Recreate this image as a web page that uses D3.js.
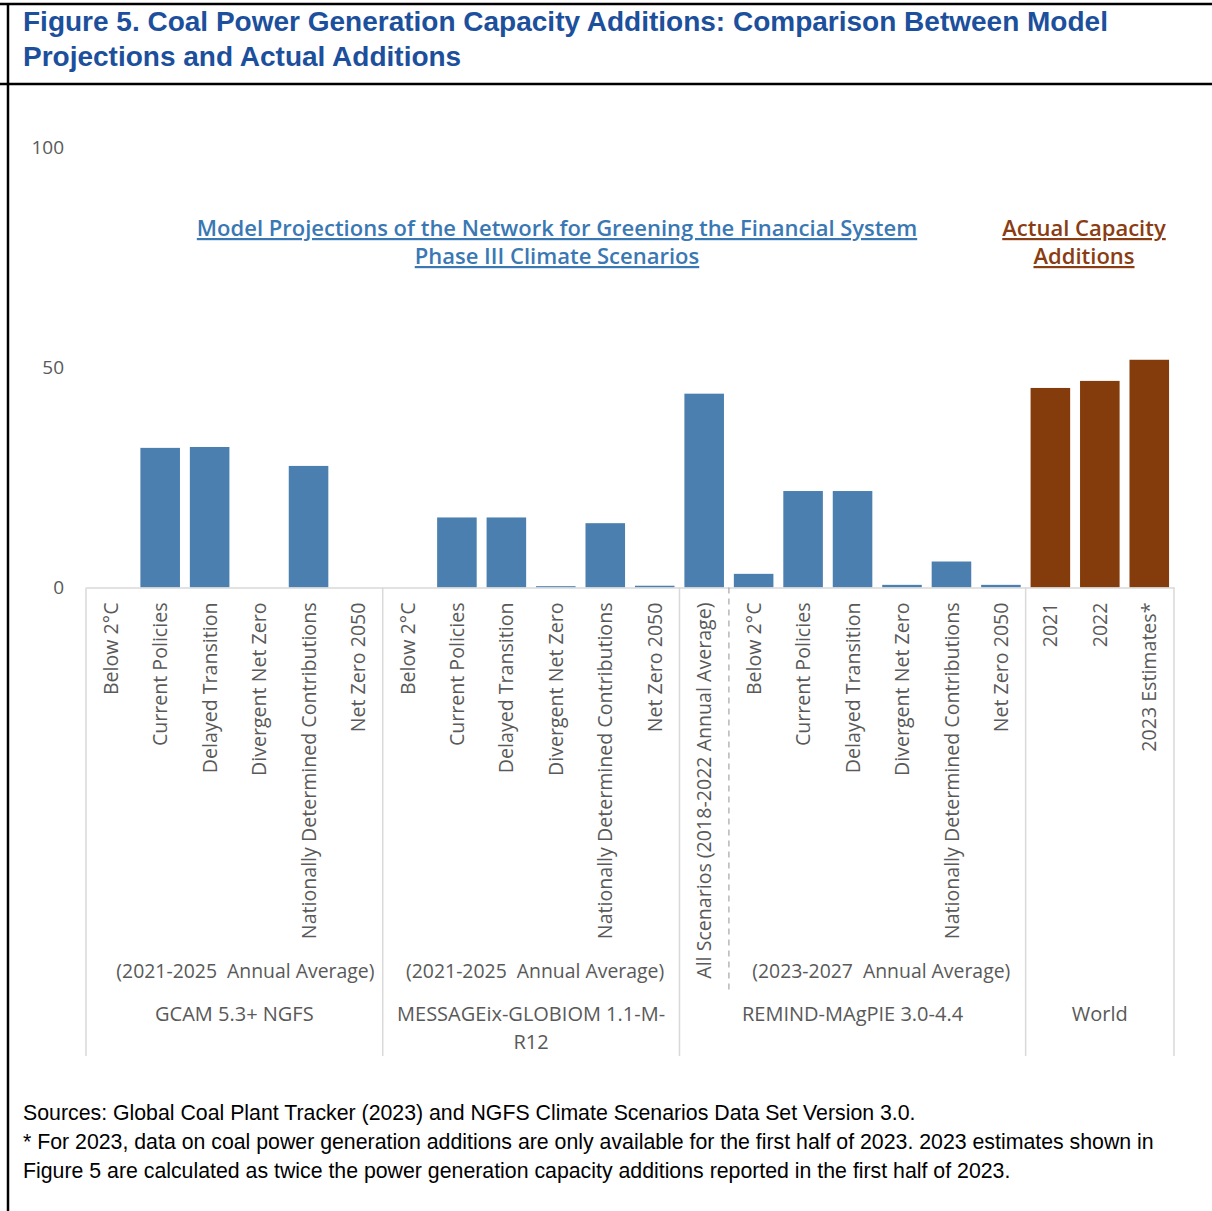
<!DOCTYPE html>
<html>
<head>
<meta charset="utf-8">
<script src="https://cdn.jsdelivr.net/npm/d3@7"></script>
<style>
  html, body { margin: 0; padding: 0; background: #fff; }
  svg { display: block; }
</style>
</head>
<body>
<svg id="chart" width="1212" height="1211"></svg>
<script>
// ---------- DATA ----------
const categories = [
  "Below 2°C", "Current Policies", "Delayed Transition", "Divergent Net Zero", "Nationally Determined Contributions", "Net Zero 2050",
  "Below 2°C", "Current Policies", "Delayed Transition", "Divergent Net Zero", "Nationally Determined Contributions", "Net Zero 2050",
  "All Scenarios (2018-2022 Annual Average)",
  "Below 2°C", "Current Policies", "Delayed Transition", "Divergent Net Zero", "Nationally Determined Contributions", "Net Zero 2050",
  "2021", "2022", "2023 Estimates*"
];
const values = [
  0, 31.7, 31.9, 0, 27.6, 0,
  0, 15.9, 15.9, 0.3, 14.6, 0.4,
  44.0,
  3.1, 21.9, 21.9, 0.6, 5.9, 0.6,
  45.3, 46.9, 51.7
];
const seriesType = [
  "model","model","model","model","model","model",
  "model","model","model","model","model","model",
  "model",
  "model","model","model","model","model","model",
  "actual","actual","actual"
];
const modelGroups = [
  { lines: ["GCAM 5.3+ NGFS"], start: 0, end: 6 },
  { lines: ["MESSAGEix-GLOBIOM 1.1-M-", "R12"], start: 6, end: 12 },
  { lines: ["REMIND-MAgPIE 3.0-4.4"], start: 12, end: 19 },
  { lines: ["World"], start: 19, end: 22 }
];
const periodGroups = [
  { label: "(2021-2025  Annual Average)", start: 0, end: 6 },
  { label: "(2021-2025  Annual Average)", start: 6, end: 12 },
  { label: "(2023-2027  Annual Average)", start: 13, end: 19 }
];
const yTicks = [0, 50, 100];
const titleLines = [
  "Figure 5. Coal Power Generation Capacity Additions: Comparison Between Model",
  "Projections and Actual Additions"
];
const modelNote = ["Model Projections of the Network for Greening the Financial System", "Phase III Climate Scenarios"];
const actualNote = ["Actual Capacity", "Additions"];
const footerLines = [
  "Sources: Global Coal Plant Tracker (2023) and NGFS Climate Scenarios Data Set Version 3.0.",
  "* For 2023, data on coal power generation additions are only available for the first half of 2023. 2023 estimates shown in",
  "Figure 5 are calculated as twice the power generation capacity additions reported in the first half of 2023."
];

// ---------- STYLE ----------
const colors = { model: "#4a7fb0", actual: "#843c0c" };
const titleColor = "#1c4f9c";
const grayText = "#595959";
const lineGray = "#d9d9d9";
const labelFont = "'Open Sans', 'Noto Sans', sans-serif";
const arial = "'Liberation Sans', Arial, sans-serif";

const svg = d3.select("#chart");

// Frame
svg.append("line").attr("x1", 0).attr("x2", 1212).attr("y1", 4).attr("y2", 4).attr("stroke", "#000").attr("stroke-width", 2.5);
svg.append("line").attr("x1", 0).attr("x2", 1212).attr("y1", 84).attr("y2", 84).attr("stroke", "#000").attr("stroke-width", 2.5);
svg.append("line").attr("x1", 8).attr("x2", 8).attr("y1", 3).attr("y2", 1211).attr("stroke", "#000").attr("stroke-width", 2.5);

// Title
svg.append("g").selectAll("text").data(titleLines).join("text")
  .attr("x", 23).attr("y", (d, i) => 31 + i * 35)
  .attr("font-family", arial).attr("font-weight", "bold").attr("font-size", 28)
  .attr("fill", titleColor).text(d => d);

// Scales
const x = d3.scaleBand().domain(d3.range(categories.length)).range([86, 1174])
  .paddingInner(0.2).paddingOuter(0.1);
const step = x.step();
const x0 = 86;
const edge = i => x0 + i * step;
const y = d3.scaleLinear().domain([0, 100]).range([587.5, 147]);

// Y axis
const yAxis = svg.append("g").attr("transform", "translate(68,0)")
  .call(d3.axisLeft(y).tickValues(yTicks).tickSize(0).tickPadding(4));
yAxis.select(".domain").remove();
yAxis.selectAll("text").attr("font-family", labelFont).attr("font-size", 19).attr("fill", grayText);

// Bars
svg.append("g").selectAll("rect").data(values).join("rect")
  .attr("x", (d, i) => x(i)).attr("width", x.bandwidth())
  .attr("y", d => y(d)).attr("height", d => y(0) - y(d))
  .attr("fill", (d, i) => colors[seriesType[i]]);

// X axis
const xAxis = svg.append("g").attr("transform", `translate(0,${y(0)})`)
  .call(d3.axisBottom(x).tickSize(0).tickFormat(i => categories[i]));
xAxis.select(".domain").attr("stroke", lineGray).attr("stroke-width", 1.5);
xAxis.selectAll("text")
  .attr("transform", "rotate(-90)").attr("text-anchor", "end")
  .attr("x", -15).attr("y", 0).attr("dy", "0.36em")
  .attr("font-family", labelFont).attr("font-size", 19.6).attr("fill", grayText);

// Separators
const solidEdges = [0, 6, 12, 19, 22];
svg.append("g").selectAll("line").data(solidEdges).join("line")
  .attr("x1", d => edge(d)).attr("x2", d => edge(d))
  .attr("y1", y(0)).attr("y2", 1056)
  .attr("stroke", lineGray).attr("stroke-width", 1.5);
svg.append("line")
  .attr("x1", edge(13)).attr("x2", edge(13)).attr("y1", y(0)).attr("y2", 992)
  .attr("stroke", "#a6a6a6").attr("stroke-width", 1.2).attr("stroke-dasharray", "6,5");

// Period labels
svg.append("g").selectAll("text").data(periodGroups).join("text")
  .attr("x", d => (edge(d.start) + edge(d.end)) / 2 + (d.start === 0 ? 11 : 4)).attr("y", 978)
  .attr("text-anchor", "middle").attr("font-family", labelFont).attr("font-size", 19.4)
  .attr("fill", grayText).attr("xml:space", "preserve").style("white-space", "pre").text(d => d.label);

// Model labels
const mg = svg.append("g").selectAll("text").data(modelGroups).join("text")
  .attr("text-anchor", "middle").attr("font-family", labelFont).attr("font-size", 20).attr("fill", grayText);
mg.each(function(d) {
  const cx = (edge(d.start) + edge(d.end)) / 2;
  d3.select(this).selectAll("tspan").data(d.lines).join("tspan")
    .attr("x", cx).attr("y", (l, i) => 1021 + i * 28).text(l => l);
});

// Annotations
function note(lines, cx, color) {
  svg.append("g").selectAll("text").data(lines).join("text")
    .attr("x", cx).attr("y", (d, i) => 236 + i * 28)
    .attr("text-anchor", "middle").attr("font-family", labelFont).attr("font-weight", 600)
    .attr("font-size", 22).attr("fill", color)
    .style("text-decoration", "underline").text(d => d);
}
note(modelNote, 557, "#3a78b4");
note(actualNote, 1084, "#8a3c12");

// Footer
svg.append("g").selectAll("text").data(footerLines).join("text")
  .attr("x", 23).attr("y", (d, i) => 1120 + i * 29)
  .attr("font-family", arial).attr("font-size", 21.3).attr("fill", "#000").text(d => d);
</script>
</body>
</html>
